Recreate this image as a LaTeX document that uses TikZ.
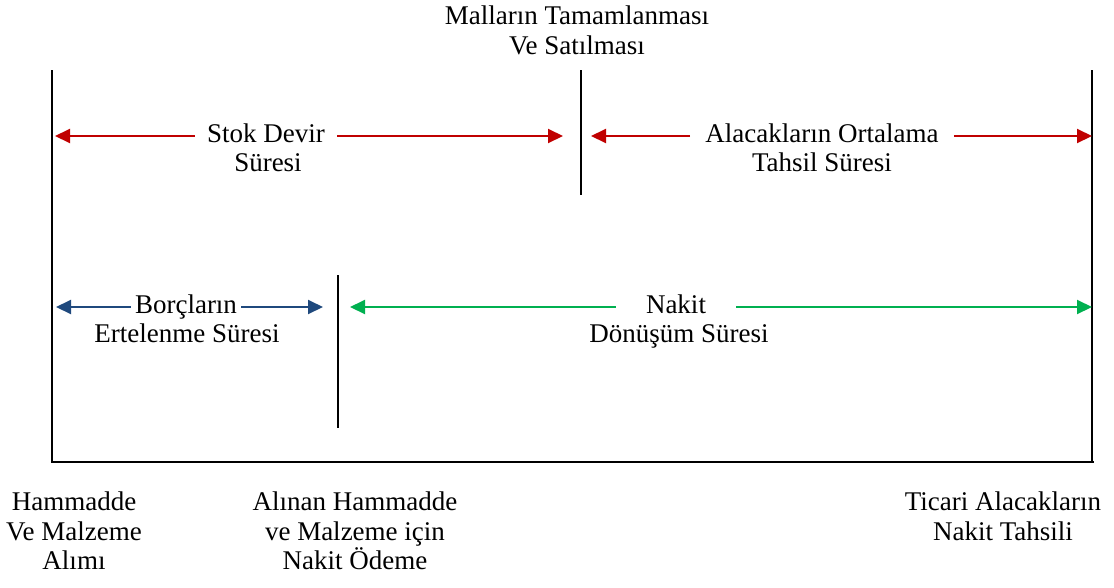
\documentclass[tikz,border=0pt]{standalone}
\usepackage{fontspec}
\setmainfont{Liberation Serif}
\usetikzlibrary{positioning, arrows.meta}
\definecolor{okkirmizi}{RGB}{192,0,0}
\definecolor{oklacivert}{RGB}{31,73,125}
\definecolor{okyesil}{RGB}{0,176,80}

\begin{document}
\begin{tikzpicture}[
      x = 1pt, y = -1pt,
      every node/.style = {font=\fontsize{27}{29.5}\selectfont},
      etiket/.style = {inner ysep=3pt, text height=18pt, text depth=6pt},
      blok/.style = {align=center, inner sep=0pt, anchor=north},
      cizgi/.style = {line width=1.8pt, black},
      ok/.style = {-{Triangle[length=15pt, width=14pt]}, line width=2pt}
    ]
    \useasboundingbox (0,0) rectangle (1114,587);
    % zaman cizgileri
    \coordinate (solust) at (52,70);
    \coordinate (solalt) at (52,462);
    \coordinate (ortaust) at (581,70);
    \coordinate (ortaalt) at (581,195);
    \coordinate (odemeust) at (338,275);
    \coordinate (odemealt) at (338,428);
    \coordinate (sagust) at (1092,70);
    \coordinate (sagalt) at (1092,462);
    \coordinate (eksenson) at (1094,462);
    \draw[cizgi] (solust) -- (solalt) -- (eksenson);
    \draw[cizgi] (ortaust) -- (ortaalt);
    \draw[cizgi] (odemeust) -- (odemealt);
    \draw[cizgi] (sagust) -- (sagalt);

    \node[blok] (mallar) at (577,6) {Malların Tamamlanması\\Ve Satılması};

    % ust sira
    \node[etiket, inner xsep=12pt] (stok) at (266,136) {Stok Devir};
    \node[etiket] (stoksure) at (268,165.5) {Süresi};
    \node[etiket, inner xsep=15pt] (alacak) at (822,136) {Alacakların Ortalama};
    \node[etiket] (tahsil) at (822,165.5) {Tahsil Süresi};
    \draw[ok, okkirmizi, shorten >=3pt] (stok.west) -- (stok.west -| solust);
    \draw[ok, okkirmizi, shorten >=18pt] (stok.east) -- (stok.east -| ortaust);
    \draw[ok, okkirmizi, shorten >=10pt] (alacak.west) -- (alacak.west -| ortaust);
    \draw[ok, okkirmizi, shorten >=0pt] (alacak.east) -- (alacak.east -| sagust);

    % alt sira
    \node[etiket, inner xsep=4pt] (borc) at (186,307) {Borçların};
    \node[etiket] (erteleme) at (187,336.5) {Ertelenme Süresi};
    \node[etiket, inner xsep=30pt] (nakit) at (676,307) {Nakit};
    \node[etiket] (donusum) at (679,336.5) {Dönüşüm Süresi};
    \draw[ok, oklacivert, shorten >=4pt] (borc.west) -- (borc.west -| solust);
    \draw[ok, oklacivert, shorten >=15pt] (borc.east) -- (borc.east -| odemeust);
    \draw[ok, okyesil, shorten >=12pt] (nakit.west) -- (nakit.west -| odemeust);
    \draw[ok, okyesil, shorten >=0pt] (nakit.east) -- (nakit.east -| sagust);

    % olaylar
    \node[blok] (alim) at (74,492) {Hammadde\\Ve Malzeme\\Alımı};
    \node[blok] (odeme) at (355,492) {Alınan Hammadde\\ve Malzeme için\\Nakit Ödeme};
    \node[blok] (tahsili) at (1003,492) {Ticari Alacakların\\Nakit Tahsili};
  \end{tikzpicture}
\end{document}
